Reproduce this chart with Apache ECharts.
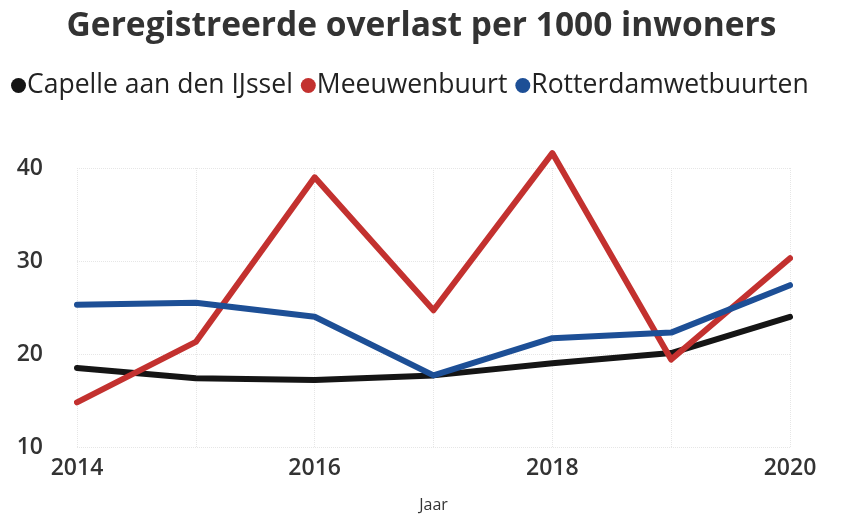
<!DOCTYPE html>
<html><head><meta charset="utf-8">
<script src="https://cdn.jsdelivr.net/npm/echarts@6/dist/echarts.min.js"></script>
<style>html,body{margin:0;padding:0;background:#fff}#c{width:843px;height:514px}</style>
</head><body><div id="c"></div>
<script>
const years = ['2014','2015','2016','2017','2018','2019','2020'];
const capelle = [18.5, 17.4, 17.2, 17.7, 19.0, 20.1, 24.0];
const meeuwen = [14.8, 21.3, 39.0, 24.7, 41.6, 19.4, 30.3];
const rotterdam = [25.3, 25.5, 24.0, 17.7, 21.7, 22.3, 27.4];
const seriesNames = ['Capelle aan den IJssel','Meeuwenbuurt','Rotterdamwetbuurten'];
const colors = ['#151515','#c3312f','#1d4f96'];
const font = '"Open Sans", "Noto Sans", sans-serif';
const chart = echarts.init(document.getElementById('c'));
const mk = (name, data, i) => ({
  name, type:'line', data, clip:false, symbol:'none', smooth:false,
  lineStyle:{width:6, color:colors[i], cap:'round', join:'round'},
  itemStyle:{color:colors[i]}
});
chart.setOption({
  backgroundColor:'#fff',
  animation:false,
  title:{text:'Geregistreerde overlast per 1000 inwoners', left:'center', top:4,
    textStyle:{fontFamily:font, fontSize:33.5, fontWeight:'bold', color:'#333'}},
  legend:{top:67, left:6, icon:'circle', itemWidth:15, itemHeight:15, itemGap:8,
    textStyle:{fontFamily:font, fontSize:26.5, color:'#222', padding:[0,0,0,-4]}},
  grid:{left:77, right:53, top:168, bottom:67, containLabel:false, outerBoundsMode:'none'},
  xAxis:{type:'category', data:years, boundaryGap:false, name:'Jaar', nameLocation:'middle', nameGap:50,
    nameTextStyle:{fontFamily:font, fontSize:16, color:'#333'},
    axisLine:{show:false}, axisTick:{show:false},
    axisLabel:{interval:1, margin:10, fontFamily:font, fontSize:23, fontWeight:'600', color:'#333'},
    splitLine:{show:true, interval:0, lineStyle:{color:'#e6e6e6', type:'dotted'}}},
  yAxis:{type:'value', min:10, max:40, interval:10,
    axisLine:{show:false}, axisTick:{show:false},
    axisLabel:{margin:34, fontFamily:font, fontSize:23, fontWeight:'600', color:'#333'},
    splitLine:{show:true, lineStyle:{color:'#e6e6e6', type:'dotted'}}},
  series:[mk(seriesNames[0],capelle,0), mk(seriesNames[1],meeuwen,1), mk(seriesNames[2],rotterdam,2)]
});
</script></body></html>
